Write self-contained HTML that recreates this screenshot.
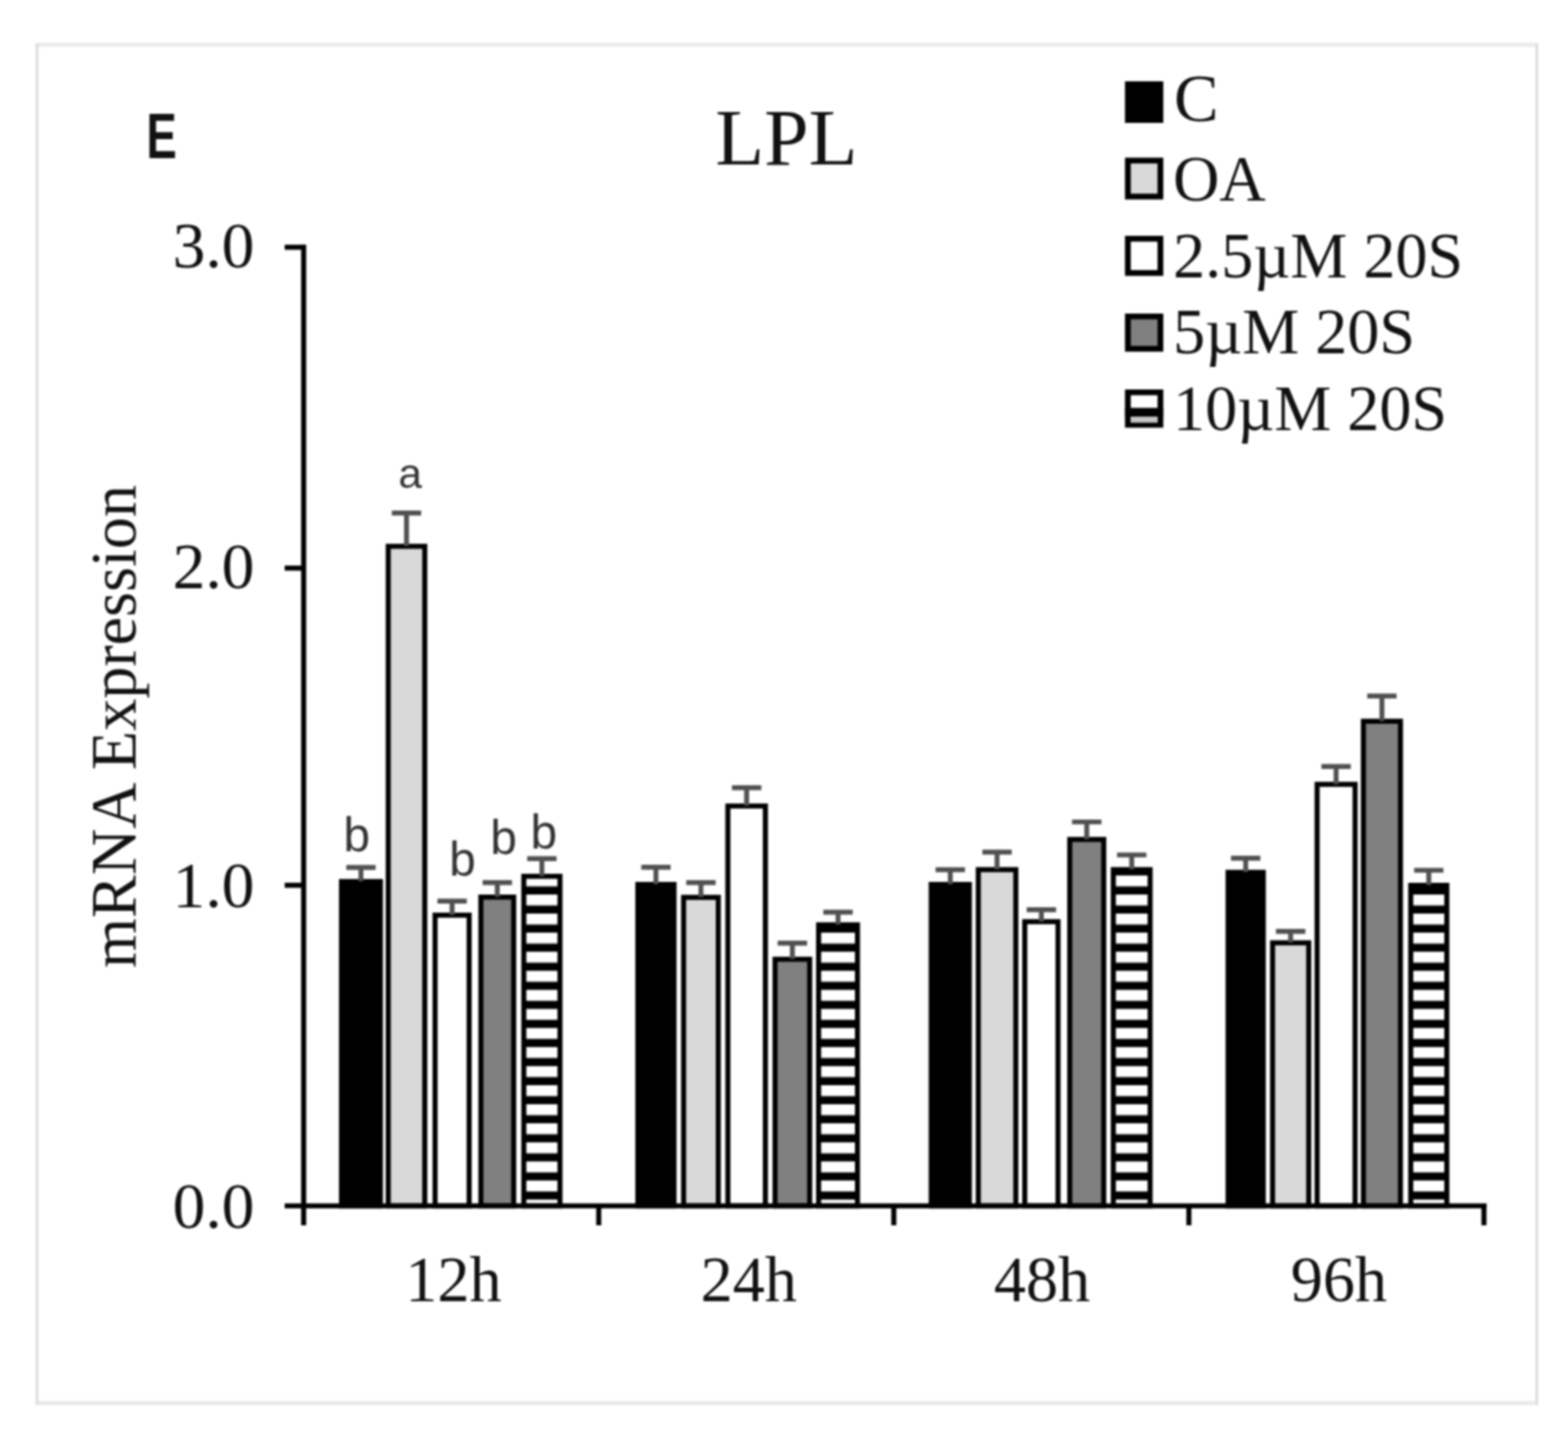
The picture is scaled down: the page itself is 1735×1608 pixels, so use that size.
<!DOCTYPE html>
<html><head><meta charset="utf-8"><title>LPL mRNA Expression</title>
<style>
html,body{margin:0;padding:0;background:#fff;overflow:hidden;}
svg{display:block;}
#wrap{filter:blur(1px);}
.ser{font-family:"Liberation Serif","Times New Roman",serif;}
.san{font-family:"Liberation Sans",Arial,sans-serif;}
</style></head><body>
<div id="wrap"><svg width="1735" height="1608" viewBox="0 0 1735 1608">
<defs>
<pattern id="stripes" patternUnits="userSpaceOnUse" x="0" y="1306.45" width="20" height="21.1">
<rect x="0" y="0" width="20" height="21.1" fill="#000"/>
<rect x="0" y="0" width="20" height="12.1" fill="#fff"/>
</pattern>
</defs>
<rect x="0" y="0" width="1735" height="1608" fill="#fff"/>

<g fill="#e9e9e9">
<rect x="40" y="47.5" width="1662" height="4"/>
<rect x="40" y="1550.5" width="1662" height="4.5"/>
</g><g fill="#dcdcdc">
<rect x="39.5" y="48" width="3" height="1507"/>
<rect x="1699" y="48" width="3" height="1507"/>
</g>
<g stroke="#000" stroke-width="5.60">
<rect x="377.90" y="975.60" width="43.00" height="358.90" fill="#000000"/>
<rect x="429.60" y="604.60" width="40.40" height="729.90" fill="#d9d9d9"/>
<rect x="481.40" y="1012.80" width="37.70" height="321.70" fill="#ffffff"/>
<rect x="532.10" y="992.80" width="36.30" height="341.70" fill="#808080"/>
<rect x="579.60" y="969.80" width="40.00" height="364.70" fill="url(#stripes)"/>
<rect x="705.80" y="978.80" width="40.00" height="355.70" fill="#000000"/>
<rect x="756.40" y="993.10" width="38.40" height="341.40" fill="#d9d9d9"/>
<rect x="805.40" y="892.00" width="41.50" height="442.50" fill="#ffffff"/>
<rect x="857.60" y="1061.60" width="38.30" height="272.90" fill="#808080"/>
<rect x="905.80" y="1023.50" width="43.00" height="311.00" fill="url(#stripes)"/>
<rect x="1030.40" y="978.80" width="42.20" height="355.70" fill="#000000"/>
<rect x="1082.50" y="962.40" width="41.50" height="372.10" fill="#d9d9d9"/>
<rect x="1133.90" y="1020.00" width="36.80" height="314.50" fill="#ffffff"/>
<rect x="1183.70" y="929.00" width="37.60" height="405.50" fill="#808080"/>
<rect x="1231.90" y="962.40" width="40.70" height="372.10" fill="url(#stripes)"/>
<rect x="1358.90" y="965.40" width="38.90" height="369.10" fill="#000000"/>
<rect x="1408.10" y="1043.40" width="40.00" height="291.10" fill="#d9d9d9"/>
<rect x="1457.40" y="868.00" width="42.00" height="466.50" fill="#ffffff"/>
<rect x="1508.60" y="798.20" width="41.00" height="536.30" fill="#808080"/>
<rect x="1561.00" y="979.80" width="39.90" height="354.70" fill="url(#stripes)"/>
</g>
<g stroke="#505050" stroke-width="5.40" fill="none">
<path d="M399.40 975.30V960.00M383.15 960.00H415.65"/>
<path d="M449.80 604.30V567.80M433.55 567.80H466.05"/>
<path d="M500.25 1012.50V997.30M484.00 997.30H516.50"/>
<path d="M550.25 992.50V976.80M534.00 976.80H566.50"/>
<path d="M599.60 969.50V950.20M583.35 950.20H615.85"/>
<path d="M725.80 978.50V959.70M709.55 959.70H742.05"/>
<path d="M775.60 992.80V976.80M759.35 976.80H791.85"/>
<path d="M826.15 891.70V871.80M809.90 871.80H842.40"/>
<path d="M876.75 1061.30V1043.70M860.50 1043.70H893.00"/>
<path d="M927.30 1023.20V1009.50M911.05 1009.50H943.55"/>
<path d="M1051.50 978.50V962.50M1035.25 962.50H1067.75"/>
<path d="M1103.25 962.10V943.00M1087.00 943.00H1119.50"/>
<path d="M1152.30 1019.70V1006.80M1136.05 1006.80H1168.55"/>
<path d="M1202.50 928.70V909.60M1186.25 909.60H1218.75"/>
<path d="M1252.25 962.10V946.10M1236.00 946.10H1268.50"/>
<path d="M1378.35 965.10V949.80M1362.10 949.80H1394.60"/>
<path d="M1428.10 1043.10V1030.80M1411.85 1030.80H1444.35"/>
<path d="M1478.40 867.70V848.20M1462.15 848.20H1494.65"/>
<path d="M1529.10 797.90V770.30M1512.85 770.30H1545.35"/>
<path d="M1580.95 979.50V963.10M1564.70 963.10H1597.20"/>
</g>
<g stroke="#000" stroke-width="5.6" fill="none" stroke-linecap="butt">
<path d="M336.00 270.8V1356"/>
<path d="M315 1334.50H1645"/>
<path d="M315 273.60H336.00"/>
<path d="M315 628.70H336.00"/>
<path d="M315 979.70H336.00"/>
<path d="M662.50 1334.50V1356"/>
<path d="M989.00 1334.50V1356"/>
<path d="M1315.50 1334.50V1356"/>
<path d="M1642.00 1334.50V1356"/>
</g>
<g class="ser" font-size="72.5" fill="#111" text-anchor="end">
<text x="281.5" y="296.0">3.0</text>
<text x="281.5" y="651.0">2.0</text>
<text x="281.5" y="1003.5">1.0</text>
<text x="281.5" y="1358.5">0.0</text>
</g>
<g class="ser" font-size="71" fill="#111" text-anchor="middle">
<text x="501.8" y="1439.5">12h</text>
<text x="828.4" y="1439.5">24h</text>
<text x="1153.0" y="1439.5">48h</text>
<text x="1481.4" y="1439.5">96h</text>
</g>
<text class="ser" font-size="71" fill="#111" transform="translate(149.8 1071.2) rotate(-90)">mRNA Expression</text>
<text class="ser" font-size="88.5" fill="#111" x="791.5" y="181.5">LPL</text>
<text class="san" font-size="70" font-weight="bold" fill="#111" transform="translate(162 175) scale(0.72 1)">E</text>
<g class="san" fill="#333">
<text font-size="53" x="380.0" y="942.0">b</text>
<text font-size="47" x="440.8" y="540.0">a</text>
<text font-size="53" x="497.0" y="968.5">b</text>
<text font-size="53" x="542.5" y="944.5">b</text>
<text font-size="53" x="587.0" y="938.5">b</text>
</g>
<g stroke="#000" stroke-width="6.40">
<rect x="1248.00" y="93.20" width="36.00" height="39.60" fill="#000"/>
<rect x="1248.00" y="177.70" width="36.00" height="39.80" fill="#d9d9d9"/>
<rect x="1248.00" y="264.20" width="36.00" height="37.90" fill="#fff"/>
<rect x="1248.00" y="350.20" width="36.00" height="35.80" fill="#808080"/>
<rect x="1248.00" y="434.20" width="36.00" height="35.90" fill="#fff"/>
<rect x="1244.80" y="451.4" width="42.40" height="9.9" fill="#000" stroke="none"/>
<rect x="1251.20" y="461.3" width="29.60" height="6.5" fill="#c4c4c4" stroke="none"/>
</g>
<g class="ser" font-size="71" fill="#111">
<text x="1299" y="133.8" font-size="74">C</text>
<text x="1298" y="221.8">OA</text>
<text x="1298" y="306.5">2.5µM 20S</text>
<text x="1298" y="391.3">5µM 20S</text>
<text x="1298" y="475.5">10µM 20S</text>
</g>
</svg></div>
</body></html>
